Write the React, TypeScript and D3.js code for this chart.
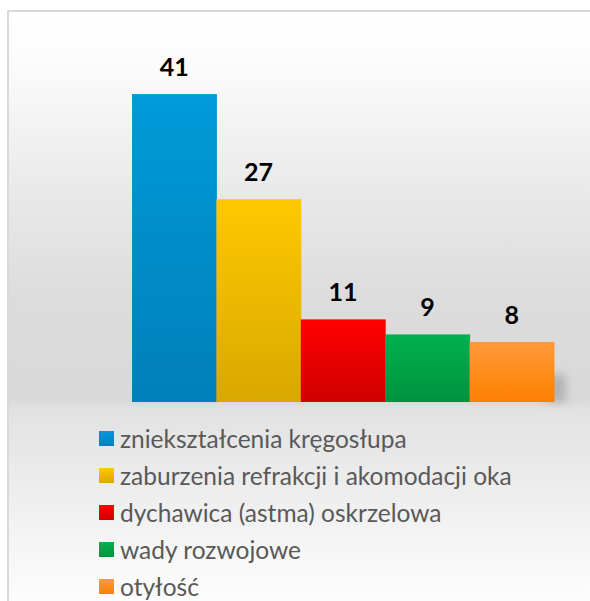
import React, { useEffect, useRef } from 'react';
import * as d3 from 'd3';

const categories = [
  'zniekształcenia kręgosłupa',
  'zaburzenia refrakcji i akomodacji oka',
  'dychawica (astma) oskrzelowa',
  'wady rozwojowe',
  'otyłość',
];
const values = [41, 27, 11, 9, 8];
const topColors = ['#009ADB', '#FFC800', '#FF0000', '#00B050', '#FF9A3A'];
const bottomColors = ['#0080B8', '#D9A800', '#D00000', '#00923E', '#FF8000'];

const W = 590;
const H = 601;

const App = () => {
  const ref = useRef<SVGSVGElement>(null);

  useEffect(() => {
    const svg = d3.select(ref.current);
    svg.selectAll('*').remove();
    const defs = svg.append('defs');

    const bg = defs.append('linearGradient')
      .attr('id', 'bg').attr('x1', 0).attr('x2', 0)
      .attr('gradientUnits', 'userSpaceOnUse')
      .attr('y1', 12).attr('y2', H);
    [[12, '#ffffff'], [60, '#fcfcfc'], [200, '#e8e8e8'], [300, '#dcdcdc'], [400, '#d9d9d9'],
      [410, '#e2e2e2'], [601, '#fdfdfd']].forEach(([y, c]) => {
      bg.append('stop').attr('offset', ((y as number) - 12) / (H - 12)).attr('stop-color', c as string);
    });

    categories.forEach((c, i) => {
      const g = defs.append('linearGradient').attr('id', 'g' + i)
        .attr('x1', 0).attr('y1', 0).attr('x2', 0).attr('y2', 1);
      g.append('stop').attr('offset', 0).attr('stop-color', topColors[i]);
      g.append('stop').attr('offset', 1).attr('stop-color', bottomColors[i]);
    });

    defs.append('filter').attr('id', 'blur').attr('x', '-50%').attr('y', '-50%')
      .attr('width', '200%').attr('height', '200%')
      .append('feGaussianBlur').attr('stdDeviation', 4);

    // chart frame
    svg.append('rect')
      .attr('x', 8).attr('y', 11).attr('width', W).attr('height', H)
      .attr('fill', 'url(#bg)').attr('stroke', '#d9d9d9').attr('stroke-width', 2);

    const x = d3.scaleBand<string>().domain(categories).range([132, 554]).padding(0);
    const y = d3.scaleLinear().domain([0, 45]).range([402, 64]);

    // soft shadow
    const last = categories[categories.length - 1];
    svg.append('rect')
      .attr('x', (x(last) as number) + x.bandwidth() - 10)
      .attr('y', y(values[values.length - 1] * 0.45))
      .attr('width', 22)
      .attr('height', y(0) - y(values[values.length - 1] * 0.45))
      .attr('fill', '#9a9a9a').attr('opacity', 0.6)
      .attr('filter', 'url(#blur)');
    svg.append('rect')
      .attr('x', 132).attr('y', y(0) - 1).attr('width', 424).attr('height', 2)
      .attr('fill', '#c8c8c8').attr('opacity', 0.4).attr('filter', 'url(#blur)');

    svg.selectAll('rect.bar')
      .data(values)
      .enter()
      .append('rect')
      .attr('class', 'bar')
      .attr('x', (d, i) => x(categories[i]) as number)
      .attr('y', (d) => y(d))
      .attr('width', x.bandwidth() + 0.5)
      .attr('height', (d) => y(0) - y(d))
      .attr('fill', (d, i) => `url(#g${i})`);

    svg.selectAll('text.lbl')
      .data(values)
      .enter()
      .append('text')
      .attr('class', 'lbl')
      .attr('x', (d, i) => (x(categories[i]) as number) + x.bandwidth() / 2)
      .attr('y', (d) => y(d) - 18)
      .attr('text-anchor', 'middle')
      .attr('font-family', 'Lato, sans-serif')
      .attr('font-weight', 'bold')
      .attr('font-size', 25)
      .attr('fill', '#000')
      .text((d) => d);

    const legend = svg.append('g');
    categories.forEach((c, i) => {
      const cy = 438 + i * 37;
      legend.append('rect')
        .attr('x', 99).attr('y', cy - 7).attr('width', 15).attr('height', 15)
        .attr('fill', `url(#g${i})`);
      legend.append('text')
        .attr('x', 120).attr('y', cy + 1)
        .attr('dy', '0.35em')
        .attr('font-family', 'Lato, sans-serif')
        .attr('font-size', 24.5)
        .attr('fill', '#595959')
        .text(c);
    });
  }, []);

  return (
    <svg ref={ref} width={W} height={H}
      style={{ position: 'absolute', left: 0, top: 0, background: '#fff' }} />
  );
};

export default App;
